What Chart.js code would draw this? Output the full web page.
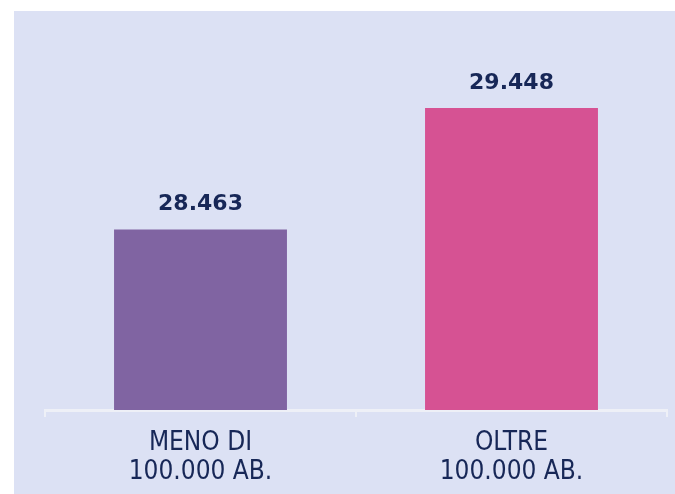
<!DOCTYPE html>
<html>
<head>
<meta charset="utf-8">
<script src="https://cdn.jsdelivr.net/npm/chart.js@4.4.1/dist/chart.umd.min.js"></script>
<style>
html,body{margin:0;padding:0;background:#dce1f4;overflow:hidden;}
#wrap{width:675px;height:494px;position:relative;}
canvas{display:block;}
</style>
</head>
<body>
<div id="wrap"><canvas id="c" width="675" height="494"></canvas></div>
<script>
const categories = [["MENO DI", "100.000 AB."], ["OLTRE", "100.000 AB."]];
const values = [28.463, 29.448];
const valueLabels = ["28.463", "29.448"];
const barColors = ["#8064a2", "#d65293"];

const panelPlugin = {
  id: 'panel',
  beforeDraw(chart) {
    const ctx = chart.ctx;
    ctx.save();
    ctx.fillStyle = '#ffffff';
    ctx.fillRect(0, 0, chart.width, chart.height);
    ctx.fillStyle = '#dce1f4';
    ctx.fillRect(14, 11, chart.width - 14, chart.height - 11);
    ctx.restore();
  }
};

const labelPlugin = {
  id: 'valueLabels',
  afterDatasetsDraw(chart) {
    const ctx = chart.ctx;
    const meta = chart.getDatasetMeta(0);
    ctx.save();
    ctx.font = 'bold 22px "DejaVu Sans", Verdana, sans-serif';
    ctx.fillStyle = '#172757';
    ctx.textAlign = 'center';
    ctx.textBaseline = 'middle';
    meta.data.forEach((bar, i) => {
      ctx.fillText(valueLabels[i], bar.x, bar.y - 25);
    });
    ctx.restore();
  }
};

new Chart(document.getElementById('c'), {
  type: 'bar',
  data: {
    labels: categories,
    datasets: [{
      data: values,
      backgroundColor: barColors,
      borderWidth: 0,
      categoryPercentage: 1.0,
      barPercentage: 0.556
    }]
  },
  options: {
    responsive: false,
    animation: false,
    layout: { padding: { top: 40, left: 45, right: 8, bottom: 0 } },
    plugins: { legend: { display: false }, tooltip: { enabled: false } },
    scales: {
      y: {
        display: false,
        min: 27,
        max: 30
      },
      x: {
        afterFit(scale) { scale.height = 84; },
        grid: {
          offset: true,
          drawOnChartArea: false,
          drawTicks: true,
          tickLength: 7,
          color: '#eef0f7',
          lineWidth: 2
        },
        border: { display: true, color: '#eef0f7', width: 3 },
        ticks: {
          color: '#172757',
          padding: 12,
          font: { family: '"Liberation Sans Narrow", "DejaVu Sans Condensed", sans-serif', size: 26, lineHeight: 1.12 }
        }
      }
    }
  },
  plugins: [panelPlugin, labelPlugin]
});
</script>
</body>
</html>
